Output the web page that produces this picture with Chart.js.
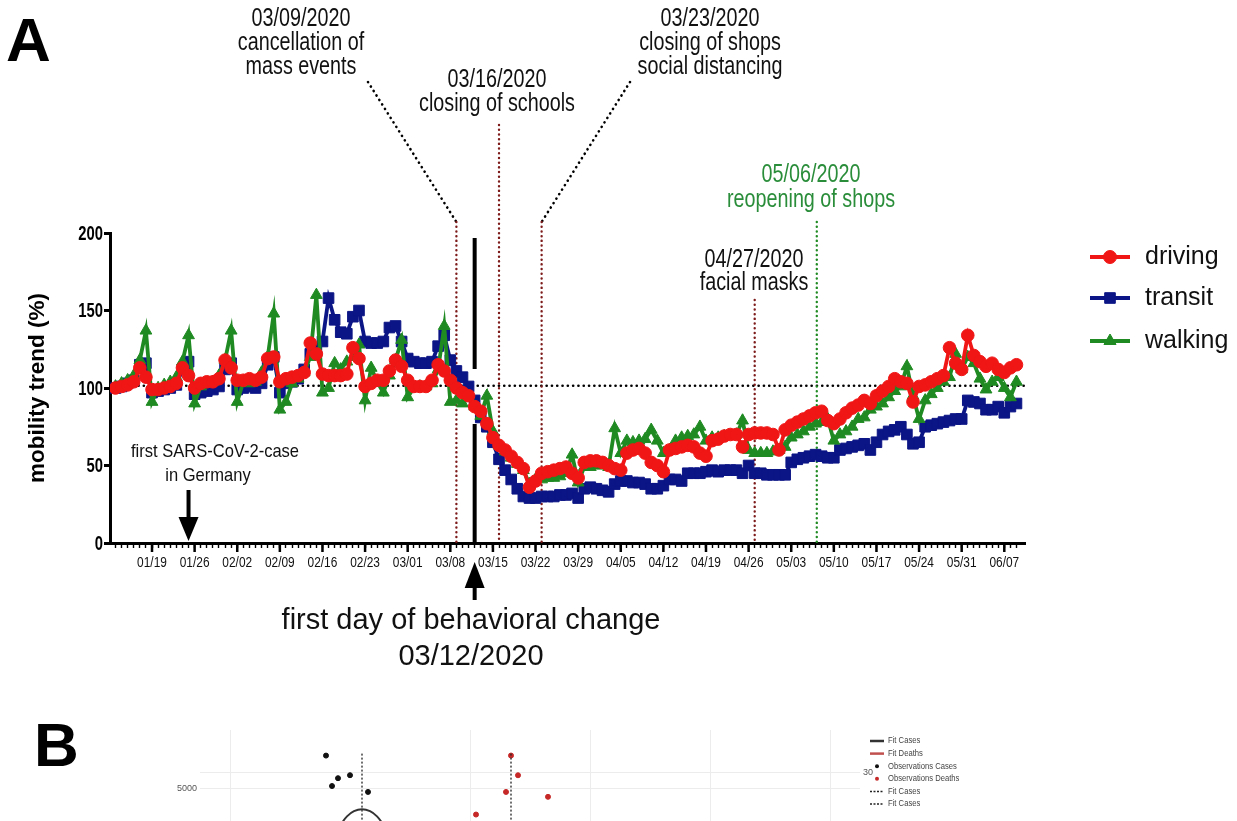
<!DOCTYPE html>
<html>
<head>
<meta charset="utf-8">
<script src="https://cdn.jsdelivr.net/npm/chart.js@4.4.1/dist/chart.umd.min.js"></script>
<style>
  html, body { margin: 0; padding: 0; background: #fff; overflow: hidden; }
  #wrap { position: relative; width: 1237px; height: 821px; overflow: hidden; background: #fff; }
  #chartA { position: absolute; left: 0; top: 0; }
  #chartB { position: absolute; left: 0; top: 725px; }
</style>
</head>
<body>
<div id="wrap">
  <canvas id="chartA" width="1237" height="821"></canvas>
  <canvas id="chartB" width="1000" height="305"></canvas>
</div>
<script>
// Panel A: mobility trends, one value per day starting 01/13/2020 (day 0)
const tickDays = [6, 13, 20, 27, 34, 41, 48, 55, 62, 69, 76, 83, 90, 97, 104, 111, 118, 125, 132, 139, 146];
const tickLabels = ['01/19', '01/26', '02/02', '02/09', '02/16', '02/23', '03/01', '03/08', '03/15', '03/22', '03/29',
                    '04/05', '04/12', '04/19', '04/26', '05/03', '05/10', '05/17', '05/24', '05/31', '06/07'];
const yTicks = [0, 50, 100, 150, 200];

const driving = [
  100, 101, 102, 104, 113, 107, 99,
  99, 100, 101, 103, 113, 108, 100,
  103, 104, 104, 106, 118, 113, 105,
  105, 106, 105, 107, 119, 120, 104,
  106, 107, 108, 110, 129, 122, 109,
  108, 108, 108, 109, 126, 119, 101,
  103, 105, 105, 111, 118, 114, 105,
  101, 101, 101, 105, 115, 111, 105,
  100, 97, 95, 88, 85, 77, 68,
  63, 60, 56, 52, 48, 36, 40,
  45, 46, 47, 48, 49, 45, 42,
  52, 53, 53, 52, 50, 48, 47,
  58, 60, 61, 58, 52, 50, 46,
  60, 61, 62, 63, 62, 58, 56,
  66, 67, 69, 70, 70, 62, 70,
  71, 71, 71, 70, 60, 73, 76,
  78, 80, 82, 84, 85, 79, 77,
  80, 84, 87, 89, 92, 90, 95,
  98, 101, 106, 104, 103, 91, 101,
  102, 104, 106, 108, 126, 116, 112,
  134, 121, 117, 114, 116, 112, 110,
  113, 115
];

const transit = [
  100, 101, 103, 105, 115, 116, 97,
  98, 99, 100, 102, 112, 117, 96,
  97, 98, 99, 101, 112, 116, 99,
  100, 101, 100, 103, 115, 120, 97,
  103, 104, 106, 112, 122, 125, 130,
  158, 144, 136, 135, 146, 150, 130,
  129, 129, 130, 139, 140, 130, 119,
  117, 116, 116, 117, 127, 134, 118,
  111, 107, 101, 92, 81, 75, 65,
  54, 47, 41, 35, 30, 29, 29,
  30, 30, 30, 31, 31, 32, 29,
  35, 36, 35, 34, 33, 38, 40,
  40, 39, 39, 38, 35, 35, 37,
  41, 41, 40, 45, 45, 45, 46,
  47, 46, 47, 47, 47, 45, 50,
  45, 45, 44, 44, 44, 44, 52,
  54, 55, 56, 57, 56, 55, 55,
  60, 61, 62, 63, 64, 60, 65,
  70, 72, 73, 75, 70, 64, 65,
  75, 76, 77, 78, 79, 80, 80,
  92, 91, 90, 86, 86, 88, 84,
  88, 90
];

const walking = [
  101, 103, 105, 108, 118, 137, 91,
  100, 102, 104, 107, 117, 134, 90,
  101, 103, 104, 108, 118, 137, 91,
  104, 103, 104, 110, 120, 148, 86,
  91, 103, 106, 110, 120, 160, 97,
  100, 116, 112, 117, 120, 128, 92,
  113, 104, 97, 108, 118, 131, 94,
  100, 101, 101, 103, 112, 140, 91,
  92, 90, 94, 88, 82, 95, 72,
  63, 59, 55, 51, 47, 38, 41,
  41, 42, 42, 43, 45, 57, 39,
  49, 49, 50, 50, 49, 74, 58,
  66, 65, 66, 67, 73, 66, 58,
  60, 66, 68, 69, 70, 75, 66,
  68, 68, 69, 69, 70, 79, 60,
  58, 58, 58, 59, 60, 62, 68,
  70, 72, 75, 77, 78, 80, 66,
  70, 72, 75, 80, 81, 86, 88,
  90, 94, 98, 101, 114, 95, 80,
  92, 96, 100, 104, 107, 122, 112,
  120, 116, 106, 99, 104, 107, 100,
  94, 104
];

const baseline = 101.5;
const firstCaseDay = 12;
// events: 03/09, 03/12, 03/16, 03/23, 04/27, 05/06
const eventDays = [56, 59, 63, 70, 105, 115.2];

// Panel B (only its top edge is visible)
const bCaseX = [12.6, 15.0, 13.8, 13.2, 16.8];
const bCaseY = [5708, 5292, 5229, 5063, 4938];
const bDeathX = [31.1, 31.8, 30.6, 34.8, 27.6];
const bDeathY = [31.97, 29.63, 27.65, 27.07, 24.97];
const bFitX = [14.0, 14.7, 15.4, 16.2, 17.0, 17.7, 18.4];
const bFitY = [4230, 4420, 4530, 4570, 4530, 4420, 4230];
const bCasePeak = 16.2;
const bDeathPeak = 31.1;
const bGridX = [3, 27, 39, 51, 63];
const bLegend = ['Fit Cases', 'Fit Deaths', 'Observations Cases', 'Observations Deaths', 'Fit Cases', 'Fit Cases'];

const FONT = "'Liberation Sans', Arial, sans-serif";
const RED = '#f01616';
const BLUE = '#0c1585';
const GREEN = '#1f8a22';
const DOT_RED = '#7d1a1a';
const DOT_GREEN = '#1f8a22';

const toXY = arr => arr.map((v, i) => ({ x: i, y: v }));

const dottedLine = (ctx, pts, color, width, gap) => {
  ctx.save();
  ctx.strokeStyle = color;
  ctx.lineWidth = width;
  ctx.lineCap = 'round';
  ctx.setLineDash([0.1, gap]);
  ctx.beginPath();
  ctx.moveTo(pts[0][0], pts[0][1]);
  for (let i = 1; i < pts.length; i++) ctx.lineTo(pts[i][0], pts[i][1]);
  ctx.stroke();
  ctx.restore();
};

const arrow = (ctx, x, yTail, yTip, headLen, halfW, shaftW) => {
  const dir = yTip > yTail ? 1 : -1;
  ctx.save();
  ctx.fillStyle = '#000';
  ctx.strokeStyle = '#000';
  ctx.lineWidth = shaftW;
  ctx.beginPath();
  ctx.moveTo(x, yTail);
  ctx.lineTo(x, yTip - dir * headLen);
  ctx.stroke();
  ctx.beginPath();
  ctx.moveTo(x, yTip);
  ctx.lineTo(x - halfW, yTip - dir * headLen);
  ctx.lineTo(x + halfW, yTip - dir * headLen);
  ctx.closePath();
  ctx.fill();
  ctx.restore();
};

// draws text rows, squeezed horizontally by sx to get a condensed face
const texts = (ctx, rows, font, color, sx = 1, align = 'center') => {
  ctx.save();
  ctx.font = font;
  ctx.fillStyle = color;
  ctx.textAlign = align;
  ctx.textBaseline = 'middle';
  rows.forEach(([t, x, y]) => {
    ctx.save();
    ctx.translate(x, y);
    ctx.scale(sx, 1);
    ctx.fillText(t, 0, 0);
    ctx.restore();
  });
  ctx.restore();
};

// Panel A annotations
const annotationsA = {
  id: 'annotationsA',
  beforeDatasetsDraw(chart) {
    const { ctx, chartArea: a, scales: { x, y } } = chart;
    const px = eventDays.map(d => x.getPixelForValue(d));

    // 100% reference line
    const yb = y.getPixelForValue(baseline);
    dottedLine(ctx, [[a.left + 2, yb], [a.right, yb]], '#000', 2.6, 5.2);

    // event lines
    dottedLine(ctx, [[368, 82], [px[0], 222]], '#000', 2.6, 5.2);
    dottedLine(ctx, [[px[0], 222], [px[0], a.bottom]], DOT_RED, 2.4, 4.6);
    dottedLine(ctx, [[px[2], 125], [px[2], a.bottom]], DOT_RED, 2.4, 4.6);
    dottedLine(ctx, [[630, 82], [px[3], 222]], '#000', 2.6, 5.2);
    dottedLine(ctx, [[px[3], 222], [px[3], a.bottom]], DOT_RED, 2.4, 4.6);
    dottedLine(ctx, [[px[4], 300], [px[4], a.bottom]], DOT_RED, 2.4, 4.6);
    dottedLine(ctx, [[px[5], 222], [px[5], a.bottom]], DOT_GREEN, 2.4, 4.6);

    // first day of behavioral change
    ctx.save();
    ctx.strokeStyle = '#000';
    ctx.lineWidth = 4;
    ctx.beginPath();
    ctx.moveTo(px[1], 238); ctx.lineTo(px[1], 369);
    ctx.moveTo(px[1], 424); ctx.lineTo(px[1], a.bottom);
    ctx.stroke();
    ctx.restore();
  },
  afterDraw(chart) {
    const { ctx, chartArea: a, scales: { x, y } } = chart;

    // weekly major ticks and their labels
    ctx.save();
    ctx.strokeStyle = '#000';
    ctx.lineWidth = 2.5;
    ctx.beginPath();
    tickDays.forEach(d => {
      const p = x.getPixelForValue(d);
      ctx.moveTo(p, a.bottom); ctx.lineTo(p, a.bottom + 9);
    });
    ctx.stroke();
    ctx.restore();
    texts(ctx, tickDays.map((d, i) => [tickLabels[i], x.getPixelForValue(d), a.bottom + 20]),
          `14px ${FONT}`, '#111', 0.85);
    texts(ctx, yTicks.map(v => [String(v), a.left - 7, y.getPixelForValue(v) + 1]),
          `bold 20px ${FONT}`, '#000', 0.74, 'right');

    texts(ctx, [
      ['03/09/2020', 301, 19], ['cancellation of', 301, 43], ['mass events', 301, 67],
      ['03/16/2020', 497, 80], ['closing of schools', 497, 104],
      ['03/23/2020', 710, 19], ['closing of shops', 710, 43], ['social distancing', 710, 67],
      ['04/27/2020', 754, 260], ['facial masks', 754, 283]
    ], `25px ${FONT}`, '#111', 0.79);
    texts(ctx, [['05/06/2020', 811, 175], ['reopening of shops', 811, 200]], `25px ${FONT}`, '#2a8d3a', 0.79);
    texts(ctx, [['first SARS-CoV-2-case', 215, 452], ['in Germany', 208, 476]], `19px ${FONT}`, '#111', 0.87);
    texts(ctx, [['first day of behavioral change', 471, 621], ['03/12/2020', 471, 657]], `29px ${FONT}`, '#111');

    arrow(ctx, x.getPixelForValue(firstCaseDay), 490, 541, 24, 10, 4);
    arrow(ctx, x.getPixelForValue(eventDays[1]), 600, 562, 26, 10, 4);

    // legend
    const items = [['driving', RED, 'circle', 6.5, 257], ['transit', BLUE, 'rect', 7.5, 298], ['walking', GREEN, 'triangle', 7, 341]];
    ctx.save();
    items.forEach(([label, color, style, r, yy]) => {
      ctx.strokeStyle = color;
      ctx.fillStyle = color;
      ctx.lineWidth = 4;
      ctx.beginPath();
      ctx.moveTo(1090, yy); ctx.lineTo(1130, yy);
      ctx.stroke();
      ctx.lineWidth = 1;
      Chart.helpers.drawPoint(ctx, { pointStyle: style, radius: r, rotation: 0, borderWidth: 1 }, 1110, yy);
      ctx.fillStyle = '#111';
      ctx.font = `25px ${FONT}`;
      ctx.textAlign = 'left';
      ctx.textBaseline = 'middle';
      ctx.fillText(label, 1145, yy);
    });
    ctx.restore();

    // panel letters
    ctx.save();
    ctx.fillStyle = '#000';
    ctx.font = `bold 62px ${FONT}`;
    ctx.textBaseline = 'alphabetic';
    ctx.fillText('A', 6, 61);
    ctx.fillText('B', 34, 766);
    ctx.restore();
  }
};

new Chart(document.getElementById('chartA'), {
  type: 'line',
  data: {
    datasets: [
      { label: 'driving', data: toXY(driving), borderColor: RED, backgroundColor: RED,
        borderWidth: 3.8, pointStyle: 'circle', pointRadius: 6.3, pointBorderWidth: 1 },
      { label: 'walking', data: toXY(walking), borderColor: GREEN, backgroundColor: GREEN,
        borderWidth: 3.8, pointStyle: 'triangle', pointRadius: 6.8, pointBorderWidth: 1 },
      { label: 'transit', data: toXY(transit), borderColor: BLUE, backgroundColor: BLUE,
        borderWidth: 3.8, pointStyle: 'rect', pointRadius: 7.5, pointBorderWidth: 1 }
    ]
  },
  options: {
    responsive: false,
    animation: false,
    events: [],
    layout: { padding: { left: 0, top: 233, right: 212, bottom: 238 } },
    plugins: { legend: { display: false }, tooltip: { enabled: false } },
    scales: {
      x: {
        type: 'linear', min: -0.9, max: 149.4,
        afterBuildTicks: s => { s.ticks = driving.map((v, i) => ({ value: i })); },
        afterFit: s => { s.height = 40; },
        grid: { display: true, drawOnChartArea: false, tickLength: 5, tickWidth: 1.4, color: '#000', tickColor: '#000' },
        border: { display: true, color: '#000', width: 3 },
        ticks: { display: false }
      },
      y: {
        min: 0, max: 200,
        afterFit: s => { s.width = 110; },
        ticks: { display: false, stepSize: 50 },
        grid: { drawOnChartArea: false, tickLength: 6, tickWidth: 3, color: '#000', tickColor: '#000' },
        border: { color: '#000', width: 3 },
        title: { display: true, text: 'mobility trend (%)', color: '#000',
                 font: { family: FONT, size: 22.5, weight: 'bold' }, padding: { top: 24, bottom: 0 } }
      }
    }
  },
  plugins: [annotationsA]
});

// Panel B overlays
const annotationsB = {
  id: 'annotationsB',
  afterDraw(chart) {
    const { ctx, chartArea: a, scales: { y, y1 } } = chart;
    ctx.save();
    ctx.font = `9px ${FONT}`;
    ctx.fillStyle = '#555';
    ctx.textBaseline = 'middle';
    ctx.textAlign = 'right';
    ctx.fillText('5000', a.left - 3, y.getPixelForValue(5000));
    ctx.textAlign = 'left';
    ctx.fillText('30', a.right + 3, y1.getPixelForValue(30));

    const styles = [['line', '#333'], ['line', '#c0504d'], ['dot', '#111'], ['dot', '#c62828'], ['dash', '#222'], ['dash', '#222']];
    bLegend.forEach((label, i) => {
      const yy = 16 + i * 12.6;
      const [kind, color] = styles[i];
      ctx.strokeStyle = color;
      ctx.fillStyle = color;
      if (kind === 'line') {
        ctx.lineWidth = 2.5; ctx.setLineDash([]);
        ctx.beginPath(); ctx.moveTo(870, yy); ctx.lineTo(884, yy); ctx.stroke();
      } else if (kind === 'dash') {
        ctx.lineWidth = 1.5; ctx.setLineDash([2, 1.5]);
        ctx.beginPath(); ctx.moveTo(870, yy); ctx.lineTo(884, yy); ctx.stroke();
        ctx.setLineDash([]);
      } else {
        ctx.beginPath(); ctx.arc(877, yy, 2, 0, Math.PI * 2); ctx.fill();
      }
      ctx.fillStyle = '#444';
      ctx.save();
      ctx.translate(888, yy);
      ctx.scale(0.85, 1);
      ctx.fillText(label, 0, 0);
      ctx.restore();
    });
    ctx.restore();
  }
};

new Chart(document.getElementById('chartB'), {
  type: 'scatter',
  data: {
    datasets: [
      { type: 'line', data: bFitX.map((v, i) => ({ x: v, y: bFitY[i] })), borderColor: '#333',
        borderWidth: 2, pointRadius: 0, tension: 0.4, yAxisID: 'y' },
      { data: [{ x: bCasePeak, y: 5750 }, { x: bCasePeak, y: 0 }], type: 'line', borderColor: '#222',
        borderWidth: 1.3, borderDash: [2, 2], pointRadius: 0, yAxisID: 'y' },
      { data: [{ x: bDeathPeak, y: 32.2 }, { x: bDeathPeak, y: 0 }], type: 'line', borderColor: '#222',
        borderWidth: 1.3, borderDash: [2, 2], pointRadius: 0, yAxisID: 'y1' },
      { data: bCaseX.map((v, i) => ({ x: v, y: bCaseY[i] })), backgroundColor: '#111', borderColor: '#111',
        pointRadius: 2.5, yAxisID: 'y' },
      { data: bDeathX.map((v, i) => ({ x: v, y: bDeathY[i] })), backgroundColor: '#c62828', borderColor: '#c62828',
        pointRadius: 2.5, yAxisID: 'y1' }
    ]
  },
  options: {
    responsive: false,
    animation: false,
    events: [],
    layout: { padding: { left: 200, top: 5, right: 140, bottom: 0 } },
    plugins: { legend: { display: false }, tooltip: { enabled: false } },
    scales: {
      x: {
        type: 'linear', min: 0, max: 66,
        afterBuildTicks: s => { s.ticks = bGridX.map(v => ({ value: v })); },
        ticks: { display: false },
        grid: { color: '#ececec', drawTicks: false },
        border: { display: false }
      },
      y: {
        min: 0, max: 6250,
        afterBuildTicks: s => { s.ticks = [{ value: 5000 }]; },
        ticks: { display: false },
        grid: { color: '#ececec', drawTicks: false },
        border: { display: false }
      },
      y1: {
        position: 'right', min: 0, max: 35,
        afterBuildTicks: s => { s.ticks = [{ value: 30 }]; },
        ticks: { display: false },
        grid: { color: '#ececec', drawTicks: false },
        border: { display: false }
      }
    }
  },
  plugins: [annotationsB]
});
</script>
</body>
</html>
